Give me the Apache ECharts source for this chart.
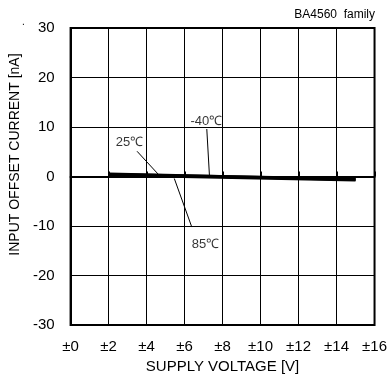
<!DOCTYPE html>
<html><head><meta charset="utf-8">
<script src="https://cdn.jsdelivr.net/npm/echarts@6/dist/echarts.min.js"></script>
<style>html,body{margin:0;padding:0;background:#fff}#c{width:390px;height:379px}</style>
</head><body><div id="c"></div>
<script>
const voltage = [2, 15];
const currMinus40 = [0.4, -0.5];
const curr25 = [0.5, -0.6];
const curr85 = [0.3, -0.7];
const xTicks = ['±0','±2','±4','±6','±8','±10','±12','±14','±16'];
const seriesNames = ['-40℃', '25℃', '85℃'];
// annotation label anchor points [x, y] in data units
const labelPos = [[7.15, 11.1], [3.1, 6.8], [7.1, -13.7]];
// leader lines from label to curve
const leaders = [
  [[7.17, 9.6], [7.31, 0.2]],
  [[3.5, 5.1], [4.63, 0.4]],
  [[5.46, -0.4], [6.38, -10.2]]
];

const F = 'Liberation Sans, Arial, sans-serif';
const chart = echarts.init(document.getElementById('c'));
const mk = (vals) => voltage.map((v, i) => [v, vals[i]]);
chart.setOption({
  animation: false,
  grid: {left: 70, right: 15, top: 28, bottom: 52, show: true, borderColor: '#000', borderWidth: 2},
  title: [
    {text: 'BA4560  family', right: 10, top: 4, textStyle: {fontFamily: F, fontSize: 12, fontWeight: 'normal', color: '#000'}},
    {text: '.', left: 17, top: 12, textStyle: {fontFamily: F, fontSize: 10, fontWeight: 'normal', color: '#000'}}
  ],
  xAxis: {
    type: 'value', min: 0, max: 16, interval: 2,
    name: 'SUPPLY VOLTAGE [V]', nameLocation: 'middle', nameGap: 32,
    nameTextStyle: {fontFamily: F, fontSize: 15, color: '#000'},
    axisLine: {lineStyle: {color: '#000', width: 2}},
    axisTick: {show: true, inside: true, length: 5, lineStyle: {color: '#000', width: 2}},
    axisLabel: {fontFamily: F, fontSize: 15, color: '#000', margin: 14,
      formatter: v => xTicks[Math.round(v / 2)]},
    splitLine: {show: true, lineStyle: {color: '#000', width: 1}}
  },
  yAxis: {
    type: 'value', min: -30, max: 30, interval: 10,
    name: 'INPUT OFFSET CURRENT [nA]', nameLocation: 'middle', nameGap: 45,
    nameTextStyle: {fontFamily: F, fontSize: 14, color: '#000', padding: [0, 0, 0, 44]},
    axisLine: {show: true, lineStyle: {color: '#000', width: 2}},
    axisTick: {show: false},
    axisLabel: {fontFamily: F, fontSize: 15, color: '#000', margin: 16},
    splitLine: {show: true, lineStyle: {color: '#000', width: 1}}
  },
  series: [
    {type: 'line', name: seriesNames[0], data: mk(currMinus40), symbol: 'none', lineStyle: {color: '#000', width: 3}},
    {type: 'line', name: seriesNames[1], data: mk(curr25), symbol: 'none', lineStyle: {color: '#000', width: 3}},
    {type: 'line', name: seriesNames[2], data: mk(curr85), symbol: 'none', lineStyle: {color: '#000', width: 3},
      markLine: {silent: true, symbol: 'none', label: {show: false},
        lineStyle: {color: '#000', width: 1, type: 'solid'},
        data: leaders.map(l => [{coord: l[0]}, {coord: l[1]}])}},
    {type: 'scatter', data: labelPos.map((p, i) => ({value: p, name: seriesNames[i]})),
      symbolSize: 0, silent: true,
      label: {show: true, position: 'inside', formatter: p => p.name, fontFamily: F, fontSize: 13, color: '#000'}}
  ]
});
</script></body></html>
